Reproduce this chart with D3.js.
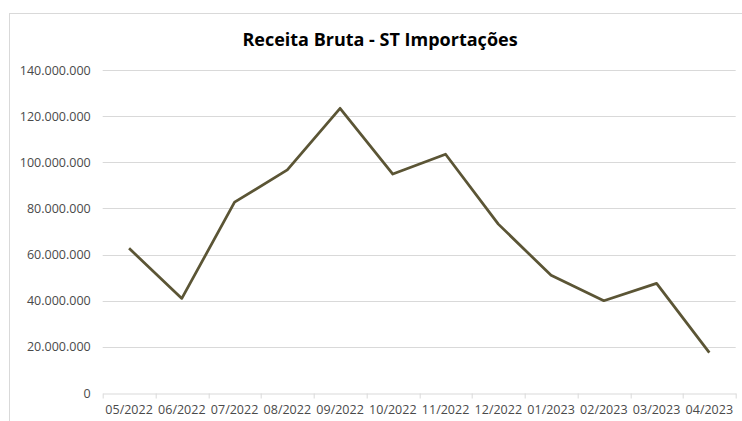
<!DOCTYPE html>
<html>
<head>
<meta charset="utf-8">
<script src="https://cdn.jsdelivr.net/npm/d3@7"></script>
<style>
    body { margin: 0; background: #fff; }
    .axis text { font-family: "Open Sans", sans-serif; font-size: 12.5px; fill: #4a4a4a; }
    .title { font-family: "Open Sans", sans-serif; font-size: 18px; font-weight: bold; fill: #000; }
</style>
</head>
<body>
<script>
// Data
var months = ["05/2022", "06/2022", "07/2022", "08/2022", "09/2022", "10/2022",
              "11/2022", "12/2022", "01/2023", "02/2023", "03/2023", "04/2023"];
var receita = [62700000, 41000000, 82700000, 96700000, 123400000, 94900000,
               103500000, 73200000, 51000000, 40000000, 47500000, 17500000];
var yTicks = [0, 20000000, 40000000, 60000000, 80000000, 100000000, 120000000, 140000000];

// Set size and margins
var W = 742, H = 421;
var margin = {top: 70, right: 6, bottom: 28, left: 102.7};
var width = 735.7 - margin.left,
    height = 393 - margin.top;

var svg = d3.select("body")
    .append("svg")
    .attr("width", W)
    .attr("height", H);

// Chart border (only top and left edges are in view)
svg.append("rect")
    .attr("x", 9.5)
    .attr("y", 13.5)
    .attr("width", W + 20)
    .attr("height", H + 20)
    .attr("fill", "#fff")
    .attr("stroke", "#d9d9d9")
    .attr("stroke-width", 1);

svg.append("text")
    .attr("class", "title")
    .attr("x", 380)
    .attr("y", 46)
    .attr("text-anchor", "middle")
    .text("Receita Bruta - ST Importações");

var chart = svg.append("g")
    .attr("transform", "translate(" + margin.left + "," + margin.top + ")");

// Scales
var xScale = d3.scaleBand()
    .domain(months)
    .range([0, width]);

var yScale = d3.scaleLinear()
    .domain([0, 140000000])
    .range([height, 0]);

var fmt = d3.formatLocale({decimal: ",", thousands: ".", grouping: [3], currency: ["R$", ""]}).format(",.0f");

// Gridlines
chart.selectAll(".grid")
    .data(yTicks.slice(1))
    .enter()
    .append("line")
    .attr("class", "grid")
    .attr("x1", 0)
    .attr("x2", width)
    .attr("y1", function(d) { return Math.round(yScale(d)) + 0.5; })
    .attr("y2", function(d) { return Math.round(yScale(d)) + 0.5; })
    .attr("stroke", "#d9d9d9")
    .attr("stroke-width", 1);

// Y axis (labels only)
var yAxis = d3.axisLeft(yScale)
    .tickValues(yTicks)
    .tickFormat(fmt)
    .tickSize(0)
    .tickPadding(12);

chart.append("g")
    .attr("class", "y axis")
    .call(yAxis)
    .call(function(g) { g.select(".domain").remove(); });

// X axis with tick marks on band edges
var xAxis = d3.axisBottom(xScale)
    .tickSize(0)
    .tickPadding(12);

var xg = chart.append("g")
    .attr("class", "x axis")
    .attr("transform", "translate(0," + (Math.round(height) + 0.5) + ")")
    .call(xAxis);
xg.select(".domain").attr("stroke", "#d9d9d9");

var edges = months.map(function(m) { return xScale(m); }).concat([width]);
xg.selectAll(".edge")
    .data(edges)
    .enter()
    .append("line")
    .attr("class", "edge")
    .attr("x1", function(d) { return Math.round(d) + 0.5; })
    .attr("x2", function(d) { return Math.round(d) + 0.5; })
    .attr("y1", 0)
    .attr("y2", 5)
    .attr("stroke", "#d9d9d9");

// Line
var line = d3.line()
    .x(function(d, i) { return xScale(months[i]) + xScale.bandwidth() / 2; })
    .y(function(d) { return yScale(d); });

chart.append("path")
    .datum(receita)
    .attr("fill", "none")
    .attr("stroke", "#5b5535")
    .attr("stroke-width", 2.75)
    .attr("stroke-linejoin", "round")
    .attr("d", line);
</script>
</body>
</html>
